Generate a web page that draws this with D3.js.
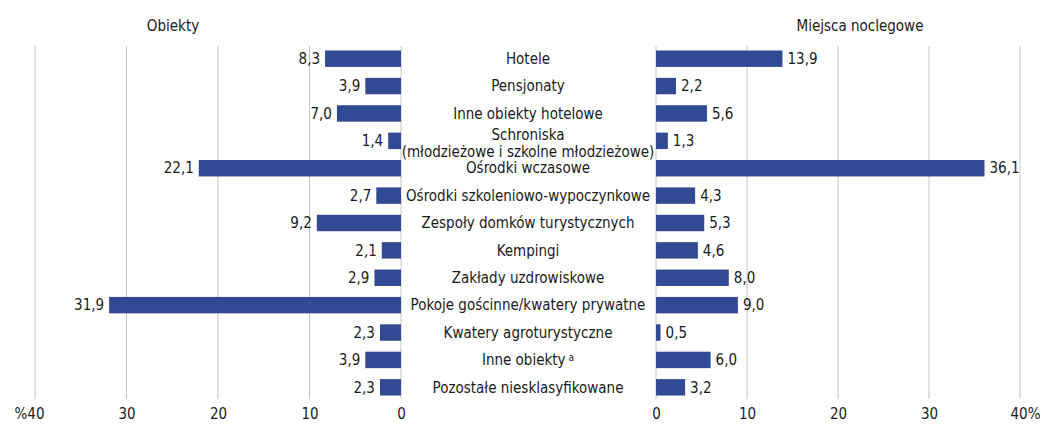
<!DOCTYPE html>
<html>
<head>
<meta charset="utf-8">
<script src="https://cdn.jsdelivr.net/npm/d3@7"></script>
<style>
  body { margin: 0; background: #fff; }
  text { font-family: "DejaVu Sans Condensed", "Liberation Sans Narrow", sans-serif; fill: #1a1a1a; }
</style>
</head>
<body>
<script>
const categories = [
  "Hotele", "Pensjonaty", "Inne obiekty hotelowe",
  "Schroniska|(młodzieżowe i szkolne młodzieżowe)",
  "Ośrodki wczasowe", "Ośrodki szkoleniowo-wypoczynkowe",
  "Zespoły domków turystycznych", "Kempingi", "Zakłady uzdrowiskowe",
  "Pokoje gościnne/kwatery prywatne", "Kwatery agroturystyczne",
  "Inne obiekty", "Pozostałe niesklasyfikowane"
]
const obiekty = [8.3, 3.9, 7.0, 1.4, 22.1, 2.7, 9.2, 2.1, 2.9, 31.9, 2.3, 3.9, 2.3]
const miejsca = [13.9, 2.2, 5.6, 1.3, 36.1, 4.3, 5.3, 4.6, 8.0, 9.0, 0.5, 6.0, 3.2]
const ticks = [0, 10, 20, 30, 40]

const width = 1042
const height = 428
const barColor = "#324a94"
const fs = "15px"
const fmt = v => v.toFixed(1).replace(".", ",")

const svg = d3.select("body").append("svg")
  .attr("width", width)
  .attr("height", height)

const y = d3.scaleBand()
  .domain(d3.range(categories.length))
  .range([45, 401])
  .paddingInner(0.4)
  .paddingOuter(0.2)

const xLeft = d3.scaleLinear().domain([0, 40]).range([401, 35])
const xRight = d3.scaleLinear().domain([0, 40]).range([656, 1020])

// gridlines
svg.append("g").selectAll("line")
  .data(ticks)
  .enter().append("line")
  .attr("x1", d => xLeft(d)).attr("x2", d => xLeft(d))
  .attr("y1", 46).attr("y2", 399)
  .attr("stroke", "#c4c4c4").attr("stroke-width", 1)
svg.append("g").selectAll("line")
  .data(ticks)
  .enter().append("line")
  .attr("x1", d => xRight(d)).attr("x2", d => xRight(d))
  .attr("y1", 46).attr("y2", 399)
  .attr("stroke", "#c4c4c4").attr("stroke-width", 1)

// axes (labels only)
const axL = svg.append("g")
  .attr("transform", "translate(0,405)")
  .call(d3.axisBottom(xLeft).tickValues(ticks).tickSize(0)
    .tickFormat(d => d == 40 ? "%40" : d))
const axR = svg.append("g")
  .attr("transform", "translate(0,405)")
  .call(d3.axisBottom(xRight).tickValues(ticks).tickSize(0)
    .tickFormat(d => d == 40 ? "40%" : d))
;[axL, axR].forEach(ax => {
  ax.select(".domain").remove()
  ax.selectAll("text")
    .style("font-family", "'DejaVu Sans Condensed', 'Liberation Sans Narrow', sans-serif")
    .style("font-size", fs)
    .attr("fill", "#1a1a1a")
})
axL.selectAll("text").filter(d => d == 40).attr("dx", "-6")
axR.selectAll("text").filter(d => d == 40).attr("dx", "5")

// bars
svg.append("g").selectAll("rect")
  .data(obiekty)
  .enter().append("rect")
  .attr("x", d => xLeft(d))
  .attr("y", (d, i) => y(i))
  .attr("width", d => xLeft(0) - xLeft(d))
  .attr("height", y.bandwidth())
  .attr("fill", barColor)
svg.append("g").selectAll("rect")
  .data(miejsca)
  .enter().append("rect")
  .attr("x", xRight(0))
  .attr("y", (d, i) => y(i))
  .attr("width", d => xRight(d) - xRight(0))
  .attr("height", y.bandwidth())
  .attr("fill", barColor)

// value labels
svg.append("g").selectAll("text")
  .data(obiekty)
  .enter().append("text")
  .attr("x", d => xLeft(d) - 5)
  .attr("y", (d, i) => y(i) + y.bandwidth() / 2)
  .attr("dy", "0.35em")
  .attr("text-anchor", "end")
  .style("font-size", fs)
  .text(fmt)
svg.append("g").selectAll("text")
  .data(miejsca)
  .enter().append("text")
  .attr("x", d => xRight(d) + 5)
  .attr("y", (d, i) => y(i) + y.bandwidth() / 2)
  .attr("dy", "0.35em")
  .style("font-size", fs)
  .text(fmt)

// category labels
const cats = svg.append("g").selectAll("text")
  .data(categories)
  .enter().append("text")
  .attr("x", 528)
  .attr("y", (d, i) => y(i) + y.bandwidth() / 2)
  .attr("text-anchor", "middle")
  .style("font-size", fs)
cats.each(function (d) {
  const t = d3.select(this)
  const parts = d.split("|")
  if (parts.length > 1) {
    t.append("tspan").attr("x", 528).attr("dy", "-0.05em").text(parts[0])
    t.append("tspan").attr("x", 528).attr("dy", "1.1em").text(parts[1])
  } else {
    t.attr("dy", "0.35em").text(d)
    if (d == "Inne obiekty") {
      t.append("tspan").attr("dx", "3").attr("dy", "-0.45em")
        .style("font-size", "10px").text("a")
    }
  }
})

// panel titles
svg.append("text")
  .attr("x", 173).attr("y", 31)
  .attr("text-anchor", "middle")
  .style("font-size", fs)
  .text("Obiekty")
svg.append("text")
  .attr("x", 860).attr("y", 31)
  .attr("text-anchor", "middle")
  .style("font-size", fs)
  .text("Miejsca noclegowe")
</script>
</body>
</html>
